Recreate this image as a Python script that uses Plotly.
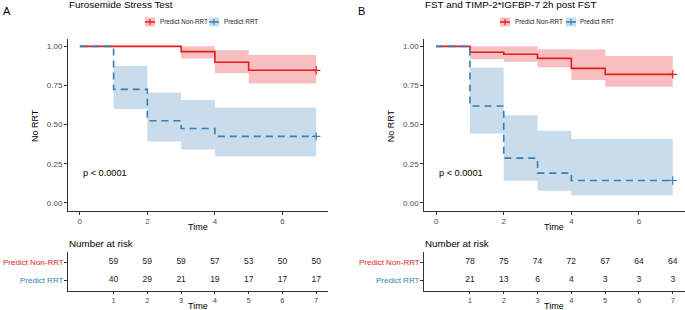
import plotly.graph_objects as go

W, H = 685, 310
def X(px): return px / W
def Y(py): return 1 - py / H

RED = "#E41A1C"
BLUE = "#377EB8"
RED_FILL = "rgba(228,26,28,0.28)"
BLUE_FILL = "rgba(55,126,184,0.27)"
FONT = "Liberation Sans, Arial, sans-serif"

group_names = ["Predict Non-RRT", "Predict RRT"]
panel_titles = ["Furosemide Stress Test", "FST and TIMP-2*IGFBP-7 2h post FST"]
panel_letters = ["A", "B"]
p_text = "p < 0.0001"

# Panel A
a_non_t = [0, 3, 4, 5, 7]
a_non_s = [1.0, 0.966, 0.898, 0.847, 0.847]
a_non_lo = [1.0, 0.923, 0.830, 0.762, 0.762]
a_non_hi = [1.0, 1.0, 0.975, 0.945, 0.945]
a_rrt_t = [0, 1, 2, 3, 4, 7]
a_rrt_s = [1.0, 0.725, 0.525, 0.475, 0.425, 0.425]
a_rrt_lo = [1.0, 0.600, 0.392, 0.341, 0.297, 0.297]
a_rrt_hi = [1.0, 0.875, 0.705, 0.657, 0.609, 0.609]

# Panel B
b_non_t = [0, 1, 2, 3, 4, 5, 7]
b_non_s = [1.0, 0.962, 0.949, 0.923, 0.859, 0.821, 0.821]
b_non_lo = [1.0, 0.919, 0.902, 0.866, 0.785, 0.741, 0.741]
b_non_hi = [1.0, 1.0, 1.0, 0.981, 0.980, 0.938, 0.938]
b_rrt_t = [0, 1, 2, 3, 4, 7]
b_rrt_s = [1.0, 0.619, 0.286, 0.190, 0.143, 0.143]
b_rrt_lo = [1.0, 0.443, 0.142, 0.078, 0.048, 0.048]
b_rrt_hi = [1.0, 0.864, 0.560, 0.460, 0.408, 0.408]

# Number at risk
risk_times = [1, 2, 3, 4, 5, 6, 7]
a_risk_non = [59, 59, 59, 57, 53, 50, 50]
a_risk_rrt = [40, 29, 21, 19, 17, 17, 17]
b_risk_non = [78, 75, 74, 72, 67, 64, 64]
b_risk_rrt = [21, 13, 6, 4, 3, 3, 3]

y_ticks = [0, 0.25, 0.5, 0.75, 1.0]
x_ticks = [0, 2, 4, 6]

panels = [
    dict(non=(a_non_t, a_non_s, a_non_lo, a_non_hi), rrt=(a_rrt_t, a_rrt_s, a_rrt_lo, a_rrt_hi),
         risk=(a_risk_non, a_risk_rrt), x0=68, x1=328),
    dict(non=(b_non_t, b_non_s, b_non_lo, b_non_hi), rrt=(b_rrt_t, b_rrt_s, b_rrt_lo, b_rrt_hi),
         risk=(b_risk_non, b_risk_rrt), x0=424.3, x1=684.6),
]

fig = go.Figure()
layout = dict(width=W, height=H, margin=dict(l=0, r=0, t=0, b=0),
              paper_bgcolor="white", plot_bgcolor="white", showlegend=False,
              font=dict(family=FONT, color="#333"))
annotations = []
shapes = []

axis_common = dict(showline=True, linecolor="#333", linewidth=1, ticks="outside", ticklen=3,
                   tickcolor="#333", showgrid=False, zeroline=False,
                   tickfont=dict(size=8, color="#4D4D4D", family=FONT), fixedrange=True)

for i, p in enumerate(panels):
    xa = "x" if i == 0 else "x2"
    ya = "y" if i == 0 else "y2"
    xr = "x3" if i == 0 else "x4"
    yr = "y3" if i == 0 else "y4"
    # bands
    for (t, s, lo, hi), fillc in ((p["non"], RED_FILL), (p["rrt"], BLUE_FILL)):
        fig.add_trace(go.Scatter(x=t, y=lo, mode="lines", line=dict(width=0, shape="hv"),
                                 xaxis=xa, yaxis=ya, hoverinfo="skip"))
        fig.add_trace(go.Scatter(x=t, y=hi, mode="lines", line=dict(width=0, shape="hv"),
                                 fill="tonexty", fillcolor=fillc, xaxis=xa, yaxis=ya, hoverinfo="skip"))
    # curves
    t, s, lo, hi = p["non"]
    fig.add_trace(go.Scatter(x=t, y=s, mode="lines", line=dict(color=RED, width=1.6, shape="hv"),
                             xaxis=xa, yaxis=ya))
    fig.add_trace(go.Scatter(x=[t[-1]], y=[s[-1]], mode="markers",
                             marker=dict(symbol="cross-thin", size=6, line=dict(color=RED, width=1.2)),
                             xaxis=xa, yaxis=ya))
    t, s, lo, hi = p["rrt"]
    fig.add_trace(go.Scatter(x=t, y=s, mode="lines",
                             line=dict(color=BLUE, width=1.6, shape="hv", dash="7px,5px"),
                             xaxis=xa, yaxis=ya))
    fig.add_trace(go.Scatter(x=[t[-1]], y=[s[-1]], mode="markers",
                             marker=dict(symbol="cross-thin", size=6, line=dict(color=BLUE, width=1.2)),
                             xaxis=xa, yaxis=ya))
    # risk table
    rn, rr = p["risk"]
    fig.add_trace(go.Scatter(x=risk_times, y=[2] * len(risk_times), mode="text",
                             text=[str(v) for v in rn], textfont=dict(size=8.5, color="#222", family=FONT),
                             xaxis=xr, yaxis=yr))
    fig.add_trace(go.Scatter(x=risk_times, y=[1] * len(risk_times), mode="text",
                             text=[str(v) for v in rr], textfont=dict(size=8.5, color="#222", family=FONT),
                             xaxis=xr, yaxis=yr))

    dom_x = [X(p["x0"]), X(p["x1"])]
    sfx = "" if i == 0 else "2"
    layout["xaxis" + sfx] = dict(axis_common, domain=dom_x, range=[-0.35, 7.35], tickvals=x_ticks,
                                 anchor=ya)
    layout["yaxis" + sfx] = dict(axis_common, domain=[Y(210.7), Y(38.5)], range=[-0.05, 1.05],
                                 tickvals=y_ticks, tickformat=".2f", anchor=xa)
    sfx_r = "3" if i == 0 else "4"
    layout["xaxis" + sfx_r] = dict(axis_common, domain=dom_x, range=[-0.35, 7.35], tickvals=risk_times,
                                   anchor=yr, ticklen=2.5,
                                   tickfont=dict(size=7.5, color="#4D4D4D", family=FONT))
    layout["yaxis" + sfx_r] = dict(axis_common, domain=[Y(290.7), Y(251.7)], range=[0.4, 2.6],
                                   tickvals=[2, 1], showticklabels=False, anchor=xr)
    # risk-table row labels (coloured)
    for yv, name, col in ((2, group_names[0], RED), (1, group_names[1], BLUE)):
        annotations.append(dict(text=name, x=X(p["x0"] - 3.5), y=yv, xref="paper", yref=yr,
                                xanchor="right", yanchor="middle", showarrow=False, borderpad=0,
                                font=dict(size=8, color=col)))

    x0 = p["x0"]
    xmid = (p["x0"] + p["x1"]) / 2
    # letter
    annotations.append(dict(text=panel_letters[i], x=X(1 if i == 0 else 356), y=Y(11),
                            xref="paper", yref="paper", xanchor="left", yanchor="middle",
                            showarrow=False, font=dict(size=11, color="black")))
    # title
    annotations.append(dict(text=panel_titles[i], x=X(x0 - 1), y=Y(5), xref="paper", yref="paper",
                            xanchor="left", yanchor="middle", showarrow=False,
                            font=dict(size=9.9, color="black")))
    # y axis title
    annotations.append(dict(text="No RRT", x=X(x0 - 33), y=Y(126), xref="paper", yref="paper",
                            xanchor="center", yanchor="middle", textangle=-90, showarrow=False,
                            font=dict(size=9, color="black")))
    # x axis titles
    annotations.append(dict(text="Time", x=X(xmid), y=Y(227), xref="paper", yref="paper",
                            xanchor="center", yanchor="middle", showarrow=False,
                            font=dict(size=9, color="black")))
    annotations.append(dict(text="Time", x=X(xmid), y=Y(305.5), xref="paper", yref="paper",
                            xanchor="center", yanchor="middle", showarrow=False, borderpad=0,
                            font=dict(size=9, color="black")))
    # number at risk
    annotations.append(dict(text="Number at risk", x=X(x0 - 1), y=Y(243.5), xref="paper", yref="paper",
                            xanchor="left", yanchor="middle", showarrow=False,
                            font=dict(size=9.8, color="black")))
    # p value
    annotations.append(dict(text=p_text, x=0.04, y=0.19, xref=xa, yref=ya, xanchor="left",
                            yanchor="middle", showarrow=False, font=dict(size=9.2, color="black")))
    # manual legend
    if i == 0:
        legs = [(145, 157.5, RED, RED_FILL, group_names[0]), (209, 221.5, BLUE, BLUE_FILL, group_names[1])]
    else:
        legs = [(500, 512.5, RED, RED_FILL, group_names[0]), (566, 578, BLUE, BLUE_FILL, group_names[1])]
    ly = 22
    for bx, tx, col, fc, name in legs:
        shapes.append(dict(type="rect", xref="paper", yref="paper", x0=X(bx), x1=X(bx + 10),
                           y0=Y(ly + 4.5), y1=Y(ly - 4.5), fillcolor=fc, line=dict(width=0)))
        shapes.append(dict(type="line", xref="paper", yref="paper", x0=X(bx), x1=X(bx + 10),
                           y0=Y(ly), y1=Y(ly), line=dict(color=col, width=1.5)))
        shapes.append(dict(type="line", xref="paper", yref="paper", x0=X(bx + 5), x1=X(bx + 5),
                           y0=Y(ly - 3), y1=Y(ly + 3), line=dict(color=col, width=1.2)))
        annotations.append(dict(text=name, x=X(tx), y=Y(ly), xref="paper", yref="paper",
                                xanchor="left", yanchor="middle", showarrow=False,
                                font=dict(size=6.3, color="#222")))

layout["annotations"] = annotations
layout["shapes"] = shapes
fig.update_layout(**layout)
fig.write_html("out.html", config={"displayModeBar": False},
               post_script="document.body.style.margin='0';document.body.style.overflow='hidden';")
